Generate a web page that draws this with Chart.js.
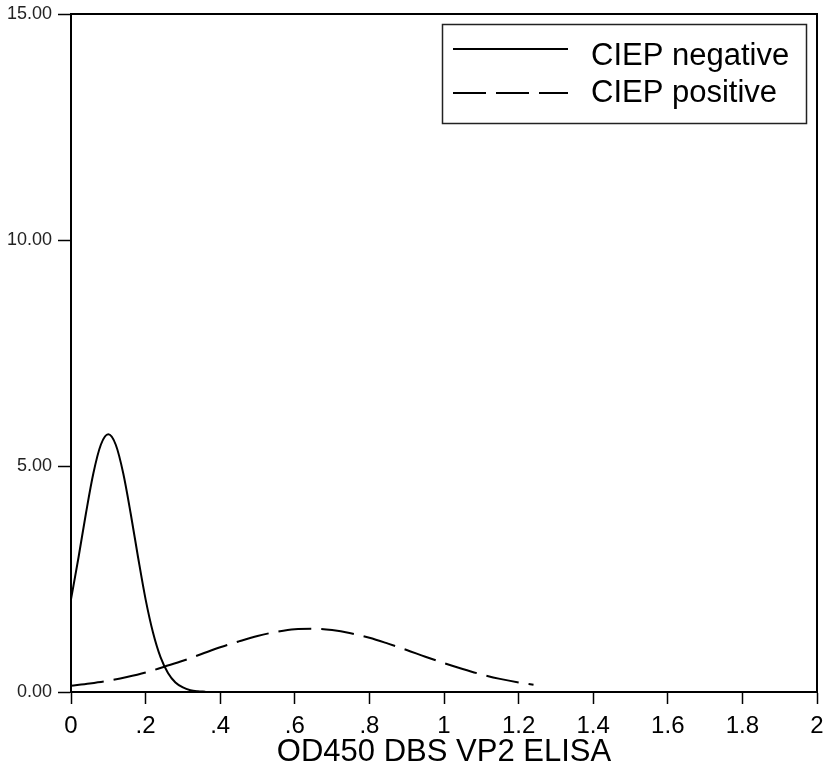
<!DOCTYPE html>
<html>
<head>
<meta charset="utf-8">
<script src="https://cdn.jsdelivr.net/npm/chart.js@4"></script>
<style>
  html, body { margin: 0; padding: 0; background: #fff; }
  canvas { display: block; }
</style>
</head>
<body>
<canvas id="myChart" width="827" height="767"></canvas>
<script>
// series
const seriesNames = ['CIEP negative', 'CIEP positive'];
const negX = [0, 0.02, 0.04, 0.06, 0.08, 0.10, 0.12, 0.14, 0.16, 0.18, 0.20,
  0.22, 0.24, 0.26, 0.28, 0.30, 0.32, 0.34, 0.36];
const negY = [2.05, 2.97, 3.95, 4.84, 5.47, 5.70, 5.47, 4.84, 3.95, 2.97, 2.05,
  1.31, 0.77, 0.42, 0.21, 0.10, 0.04, 0.016, 0.006];
const posX = [0, 0.05, 0.10, 0.15, 0.20, 0.25, 0.30, 0.35, 0.40, 0.45, 0.50,
  0.55, 0.60, 0.65, 0.70, 0.75, 0.80, 0.85, 0.90, 0.95, 1.00, 1.05, 1.10,
  1.15, 1.20, 1.24];
const posY = [0.14, 0.19, 0.25, 0.33, 0.43, 0.56, 0.69, 0.84, 0.99, 1.12, 1.24,
  1.33, 1.39, 1.40, 1.37, 1.30, 1.20, 1.07, 0.93, 0.78, 0.64, 0.51, 0.39,
  0.29, 0.21, 0.16];
const xTickLabels = ['0', '.2', '.4', '.6', '.8', '1', '1.2', '1.4', '1.6', '1.8', '2'];
const yTickLabels = ['0.00', '5.00', '10.00', '15.00'];
const xTitle = 'OD450 DBS VP2 ELISA';

const dashPattern = [33, 10];
const fontFamily = '"Liberation Sans", Arial, sans-serif';

function toPoints(xs, ys) {
  return xs.map((x, i) => ({x: x, y: ys[i]}));
}

// top/right frame + legend box inside the plot
const framePlugin = {
  id: 'frameAndLegend',
  afterDraw(chart) {
    const ctx = chart.ctx;
    const a = chart.chartArea;
    ctx.save();
    ctx.strokeStyle = '#000';
    ctx.lineWidth = 2;
    ctx.beginPath();
    ctx.moveTo(a.left, a.top);
    ctx.lineTo(a.right, a.top);
    ctx.lineTo(a.right, a.bottom);
    ctx.stroke();

    // legend
    const box = {x: 442.5, y: 24.5, w: 364, h: 99};
    ctx.fillStyle = '#fff';
    ctx.fillRect(box.x, box.y, box.w, box.h);
    ctx.lineWidth = 1.5;
    ctx.strokeStyle = '#222';
    ctx.strokeRect(box.x, box.y, box.w, box.h);

    const lineRows = [49, 93];
    const textBaselines = [65, 102];
    chart.data.datasets.forEach((ds, i) => {
      ctx.beginPath();
      ctx.lineWidth = 2;
      ctx.strokeStyle = '#000';
      ctx.setLineDash(ds.borderDash || []);
      ctx.moveTo(453, lineRows[i]);
      ctx.lineTo(568, lineRows[i]);
      ctx.stroke();
      ctx.setLineDash([]);
      ctx.fillStyle = '#000';
      ctx.font = '31px ' + fontFamily;
      ctx.textBaseline = 'alphabetic';
      ctx.textAlign = 'left';
      ctx.fillText(ds.label, 591, textBaselines[i]);
    });
    ctx.restore();
  },
};

new Chart(document.getElementById('myChart'), {
  type: 'scatter',
  data: {
    datasets: [{
      label: seriesNames[0],
      data: toPoints(negX, negY),
      showLine: true,
      borderColor: '#000',
      borderWidth: 2,
      pointRadius: 0,
      cubicInterpolationMode: 'monotone',
    }, {
      label: seriesNames[1],
      data: toPoints(posX, posY),
      showLine: true,
      borderColor: '#000',
      borderWidth: 2,
      borderDash: dashPattern,
      pointRadius: 0,
      cubicInterpolationMode: 'monotone',
    }],
  },
  options: {
    responsive: false,
    animation: false,
    layout: {padding: {top: 14, right: 10, left: 0, bottom: 0}},
    plugins: {
      legend: {display: false},
      tooltip: {enabled: false},
    },
    scales: {
      x: {
        type: 'linear',
        min: 0,
        max: 2,
        afterFit: (scale) => {
          scale.height = 75;
          scale.paddingLeft = 0;
          scale.paddingRight = 0;
        },
        border: {color: '#000', width: 2},
        grid: {drawOnChartArea: false, drawTicks: true, tickLength: 12, tickColor: '#000', tickWidth: 1.5},
        ticks: {
          stepSize: 0.2,
          color: '#000',
          padding: 8,
          maxRotation: 0,
          autoSkip: false,
          font: {family: fontFamily, size: 24},
          callback: (value, index) => xTickLabels[index],
        },
        title: {
          display: true,
          text: xTitle,
          color: '#000',
          padding: 0,
          font: {family: fontFamily, size: 31, lineHeight: 0.92},
        },
      },
      y: {
        min: 0,
        max: 15,
        afterFit: (scale) => {
          scale.width = 71;
          scale.paddingTop = 0;
          scale.paddingBottom = 0;
        },
        border: {color: '#000', width: 2},
        grid: {drawOnChartArea: false, drawTicks: true, tickLength: 13, tickColor: '#000', tickWidth: 1.5},
        ticks: {
          stepSize: 5,
          color: '#222',
          padding: 6,
          font: {family: fontFamily, size: 18},
          callback: (value, index) => yTickLabels[index],
        },
      },
    },
  },
  plugins: [framePlugin],
});
</script>
</body>
</html>
